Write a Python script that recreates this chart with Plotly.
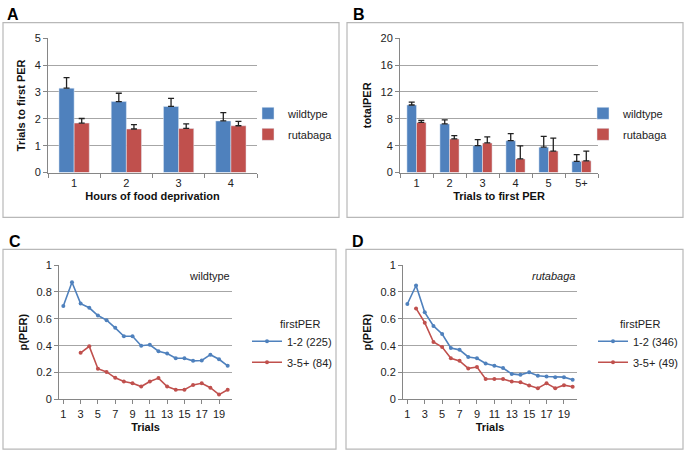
import plotly.graph_objects as go

# Panel A: trials to first PER vs hours of food deprivation
hours = ["1", "2", "3", "4"]
a_wt = [3.14, 2.64, 2.46, 1.92]
a_wt_err = [0.39, 0.31, 0.30, 0.31]
a_rut = [1.84, 1.62, 1.64, 1.74]
a_rut_err = [0.17, 0.16, 0.17, 0.16]

# Panel B: totalPER vs trials to first PER
first_trial = ["1", "2", "3", "4", "5", "5+"]
b_wt = [10.05, 7.24, 4.0, 4.74, 3.77, 1.66]
b_wt_err = [0.42, 0.6, 0.9, 1.06, 1.6, 1.0]
b_rut = [7.45, 5.0, 4.4, 2.03, 3.19, 1.74]
b_rut_err = [0.3, 0.5, 0.9, 1.94, 1.94, 1.45]

# Panels C/D: p(PER) per trial
trials = list(range(1, 21))
c_early = [0.696, 0.872, 0.713, 0.682, 0.624, 0.59, 0.533, 0.47, 0.47, 0.40,
           0.407, 0.359, 0.342, 0.306, 0.306, 0.287, 0.29, 0.333, 0.299, 0.25]
c_late = [None, None, 0.347, 0.395, 0.229, 0.205, 0.161, 0.133, 0.12, 0.096,
          0.133, 0.159, 0.096, 0.072, 0.072, 0.108, 0.12, 0.087, 0.036, 0.072]
d_early = [0.71, 0.848, 0.648, 0.547, 0.487, 0.383, 0.369, 0.316, 0.306, 0.267,
           0.25, 0.234, 0.19, 0.183, 0.202, 0.176, 0.171, 0.166, 0.166, 0.147]
d_late = [None, 0.677, 0.571, 0.427, 0.39, 0.306, 0.287, 0.231, 0.241, 0.152,
          0.152, 0.152, 0.133, 0.128, 0.104, 0.084, 0.12, 0.084, 0.106, 0.094]

BLUE = "#4F81BD"
RED = "#C0504D"
GRID = "#A6A6A6"
FONT = "Liberation Sans"
W, H = 687, 459

def px(x):
    return x / W

def py(y):
    return 1 - y / H

fig = go.Figure()

def err(vals):
    return dict(type="data", symmetric=False, array=vals, arrayminus=[0] * len(vals),
                color="#222222", thickness=1.3, width=3)

fig.add_trace(go.Bar(x=hours, y=a_wt, name="wildtype", marker_color=BLUE, error_y=err(a_wt_err),
                     xaxis="x", yaxis="y", legend="legend", legendgroup="a1"))
fig.add_trace(go.Bar(x=hours, y=a_rut, name="rutabaga", marker_color=RED, error_y=err(a_rut_err),
                     xaxis="x", yaxis="y", legend="legend", legendgroup="a2"))
fig.add_trace(go.Bar(x=first_trial, y=b_wt, name="wildtype", marker_color=BLUE, error_y=err(b_wt_err),
                     xaxis="x2", yaxis="y2", legend="legend2", legendgroup="b1"))
fig.add_trace(go.Bar(x=first_trial, y=b_rut, name="rutabaga", marker_color=RED, error_y=err(b_rut_err),
                     xaxis="x2", yaxis="y2", legend="legend2", legendgroup="b2"))

line_kw = dict(mode="lines+markers", marker=dict(size=4), line=dict(width=1.6))
fig.add_trace(go.Scatter(x=trials, y=c_early, name="1-2 (225)", line_color=BLUE, marker_color=BLUE,
                         xaxis="x3", yaxis="y3", legend="legend3", legendgroup="c1", **line_kw))
fig.add_trace(go.Scatter(x=trials, y=c_late, name="3-5+ (84)", line_color=RED, marker_color=RED,
                         xaxis="x3", yaxis="y3", legend="legend3", legendgroup="c2", **line_kw))
fig.add_trace(go.Scatter(x=trials, y=d_early, name="1-2 (346)", line_color=BLUE, marker_color=BLUE,
                         xaxis="x4", yaxis="y4", legend="legend4", legendgroup="d1", **line_kw))
fig.add_trace(go.Scatter(x=trials, y=d_late, name="3-5+ (49)", line_color=RED, marker_color=RED,
                         xaxis="x4", yaxis="y4", legend="legend4", legendgroup="d2", **line_kw))

tickfont = dict(family=FONT, size=11, color="#222")
titlefont = dict(family=FONT, size=11, color="#111", weight="bold")

def yax(domain, rng, dtick, title, anchor):
    return dict(domain=domain, range=rng, dtick=dtick, anchor=anchor, showgrid=True,
                gridcolor=GRID, gridwidth=1.2, showline=True, linecolor="#868686",
                ticks="outside", ticklen=4, tickcolor="#868686", tickfont=tickfont,
                zeroline=False, title=dict(text=title, font=titlefont, standoff=6))

def xax(domain, title, anchor, **kw):
    d = dict(domain=domain, anchor=anchor, showline=True, linecolor="#868686",
             ticks="outside", ticklen=4, tickcolor="#868686", tickfont=tickfont,
             showgrid=False, zeroline=False, title=dict(text=title, font=titlefont, standoff=4))
    d.update(kw)
    return d

top_dom = [py(171), py(33)]
bot_dom = [py(404), py(266)]

fig.update_layout(
    width=W, height=H, margin=dict(l=0, r=0, t=0, b=0),
    paper_bgcolor="white", plot_bgcolor="white",
    barmode="group", bargap=0.42, bargroupgap=0,
    font=dict(family=FONT, size=11, color="#222"),
    xaxis=xax([px(48), px(257)], "Hours of food deprivation", "y", type="category", tickson="boundaries"),
    yaxis=yax(top_dom, [0, 5], 1, "Trials to first PER", "x"),
    xaxis2=xax([px(400), px(598)], "Trials to first PER", "y2", type="category", tickson="boundaries"),
    yaxis2=yax(top_dom, [0, 20], 4, "totalPER", "x2"),
    xaxis3=xax([px(59), px(232)], "Trials", "y3", range=[0.5, 20.5], tickvals=trials[::2]),
    yaxis3=yax(bot_dom, [0, 1], 0.2, "p(PER)", "x3"),
    xaxis4=xax([px(403), px(577)], "Trials", "y4", range=[0.5, 20.5], tickvals=trials[::2]),
    yaxis4=yax(bot_dom, [0, 1], 0.2, "p(PER)", "x4"),
)

leg = dict(bgcolor="rgba(0,0,0,0)", font=dict(family=FONT, size=11, color="#222"),
           xanchor="left", yanchor="middle", tracegroupgap=2)
fig.update_layout(
    legend=dict(x=px(248), y=py(121), **leg),
    legend2=dict(x=px(583), y=py(121), **leg),
    legend3=dict(x=px(247), y=py(355), **leg),
    legend4=dict(x=px(593), y=py(355), **leg),
)

# panel frames
for x0, x1, y0, y1 in [(3, 339, 17, 217), (347, 683, 17, 217), (3, 336, 250, 455), (346, 683, 250, 455)]:
    fig.add_shape(type="rect", xref="paper", yref="paper", x0=px(x0), x1=px(x1), y0=py(y1), y1=py(y0),
                  line=dict(color="#B8B8B8", width=1.2), fillcolor="rgba(0,0,0,0)", layer="below")

annots = [("A", 5, 9), ("B", 351, 9), ("C", 7, 242), ("D", 350, 242)]
for t, x, y in annots:
    fig.add_annotation(text=t, x=px(x), y=py(y), xref="paper", yref="paper", showarrow=False,
                       xanchor="left", yanchor="middle",
                       font=dict(family=FONT, size=16, color="black", weight="bold"))

fig.add_annotation(text="wildtype", x=px(232), y=py(277), xref="paper", yref="paper", showarrow=False,
                   xanchor="right", yanchor="middle", font=dict(family=FONT, size=11, color="#222"))
fig.add_annotation(text="<i>rutabaga</i>", x=px(577), y=py(277), xref="paper", yref="paper",
                   showarrow=False, xanchor="right", yanchor="middle",
                   font=dict(family=FONT, size=11, color="#222"))
for x in (278, 618):
    fig.add_annotation(text="firstPER", x=px(x), y=py(327), xref="paper", yref="paper", showarrow=False,
                       xanchor="left", yanchor="middle", font=dict(family=FONT, size=11, color="#222"))

fig.write_html("out.html", config={"displayModeBar": False},
               post_script="document.body.style.margin='0';document.body.style.overflow='hidden';")
